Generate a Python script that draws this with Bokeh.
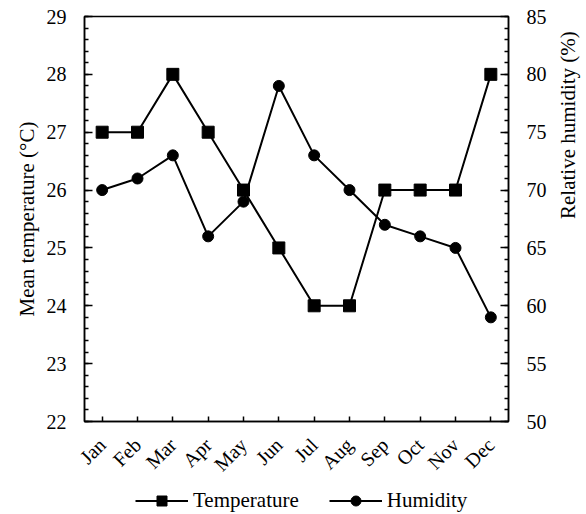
import math
from bokeh.plotting import figure
from bokeh.layouts import column
from bokeh.models import (Range1d, LinearAxis, SingleIntervalTicker, Legend, LegendItem)
from bokeh.embed import file_html
from bokeh.resources import INLINE

months = ["Jan", "Feb", "Mar", "Apr", "May", "Jun", "Jul", "Aug", "Sep", "Oct", "Nov", "Dec"]
temperature = [27, 27, 28, 27, 26, 25, 24, 24, 26, 26, 26, 28]
humidity = [70, 71, 73, 66, 69, 79, 73, 70, 67, 66, 65, 59]
series_names = ["Temperature", "Humidity"]

FONT = "Liberation Serif"

p = figure(x_range=months, y_range=Range1d(22, 29), frame_width=424, frame_height=405,
           output_backend="svg", toolbar_location=None,
           min_border_left=84, min_border_right=78, min_border_top=16, min_border_bottom=64)
p.extra_y_ranges = {"hum": Range1d(50, 85)}
p.xgrid.visible = False
p.ygrid.visible = False
p.outline_line_color = "black"
p.outline_line_width = 1.5
p.outline_line_alpha = 1

p.line(months, temperature, line_color="black", line_width=2)
p.scatter(months, temperature, marker="square", size=12, fill_color="black", line_color="black")
p.line(months, humidity, y_range_name="hum", line_color="black", line_width=2)
p.scatter(months, humidity, y_range_name="hum", marker="circle", size=11, fill_color="black", line_color="black")

right = LinearAxis(y_range_name="hum", ticker=SingleIntervalTicker(interval=5, num_minor_ticks=5),
                   axis_label="Relative humidity (%)")
p.add_layout(right, "right")

p.yaxis[0].ticker = SingleIntervalTicker(interval=1, num_minor_ticks=5)
p.yaxis[0].axis_label = "Mean temperature (\u00b0C)"

for ax in [p.yaxis[0], right, p.xaxis[0]]:
    ax.axis_line_color = "black"
    ax.axis_line_width = 1.5
    ax.major_tick_line_color = "black"
    ax.minor_tick_line_color = "black"
    ax.major_tick_line_width = 1.5
    ax.minor_tick_line_width = 1.5
    ax.major_tick_in = 8
    ax.major_tick_out = 0
    ax.minor_tick_in = 4
    ax.minor_tick_out = 0
    ax.major_label_text_font = FONT
    ax.major_label_text_font_size = "20px"
    ax.major_label_text_color = "black"
    ax.major_label_standoff = 18
    ax.axis_label_text_font = FONT
    ax.axis_label_text_font_size = "21px"
    ax.axis_label_text_font_style = "normal"
    ax.axis_label_text_color = "black"
    ax.axis_label_standoff = 5

right.axis_label_standoff = 18
right.axis_label_orientation = math.pi / 2
p.xaxis[0].major_tick_in = 5
p.xaxis[0].major_label_orientation = math.pi / 4
p.xaxis[0].major_label_standoff = 20

# legend strip below the chart (its renderers are hidden; only the legend shows)
lg = figure(x_range=months, y_range=Range1d(22, 29), frame_width=424, height=29,
            output_backend="svg", toolbar_location=None,
            x_axis_type=None, y_axis_type=None,
            min_border_left=84, min_border_right=78, min_border_top=0, min_border_bottom=0)
lg.xgrid.visible = False
lg.ygrid.visible = False
lg.outline_line_color = None
lt = lg.line(months, temperature, line_color="black", line_width=2, visible=False)
ls = lg.scatter(months, temperature, marker="square", size=12, fill_color="black",
                line_color="black", visible=False)
lh = lg.line(months, humidity, line_color="black", line_width=2, visible=False)
lc = lg.scatter(months, humidity, marker="circle", size=11, fill_color="black",
                line_color="black", visible=False)

legend = Legend(items=[LegendItem(label=series_names[0], renderers=[lt, ls]),
                       LegendItem(label=series_names[1], renderers=[lh, lc])],
                orientation="horizontal", location=(51, 1),
                label_text_font=FONT, label_text_font_size="21px", label_text_color="black",
                glyph_width=53, glyph_height=25, spacing=30, label_standoff=5,
                border_line_color=None, background_fill_alpha=0, padding=0, margin=0,
                inactive_fill_alpha=0)
lg.add_layout(legend, "center")

layout = column(p, lg, spacing=0)
open("out.html", "w").write(file_html(layout, INLINE))
